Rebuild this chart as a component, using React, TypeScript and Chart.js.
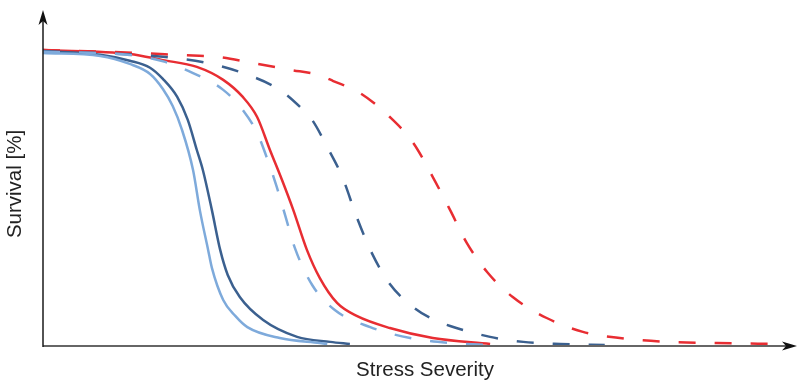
import React, { useEffect, useRef } from "react";
import { Chart, registerables } from "chart.js";

Chart.register(...registerables);

// Stress severity (0–100) vs survival (%)
const lightSolidX = [0, 7.6, 11.5, 14.2, 15.9, 17.2, 18.4, 19.9, 20.8, 21.9, 22.4, 23.9, 25.5, 27.1, 31.4, 36.7, 37.7];
const lightSolidY = [99.4, 98.4, 95.7, 92.3, 87.2, 81.4, 73.6, 59.7, 46.1, 32.6, 26.5, 15.6, 10.2, 6.4, 2.7, 1.0, 0.7];

const darkSolidX = [0, 7.6, 11.5, 14.2, 15.9, 17.8, 19.2, 20.4, 21.2, 22.4, 23.5, 24.5, 26.1, 29.2, 33.7, 38.1, 40.7];
const darkSolidY = [100.1, 98.8, 96.8, 94.4, 90.6, 84.5, 76.7, 66.5, 59.7, 46.1, 32.6, 24.1, 16.6, 8.8, 3.1, 1.4, 0.7];

const lightDashX = [0, 11.5, 16.2, 19.9, 23.9, 26.5, 28.4, 29.8, 31.0, 32.1, 33.4, 35.7, 38.7, 43.4, 48.7, 54.0, 59.7];
const lightDashY = [99.8, 98.7, 96.4, 92.6, 86.9, 80.1, 72.3, 63.1, 54.0, 44.5, 33.3, 20.7, 12.2, 6.4, 2.7, 1.0, 0.3];

const redSolidX = [0, 11.5, 15.9, 20.4, 23.9, 26.5, 28.4, 30.1, 31.7, 33.2, 35.0, 36.7, 39.0, 41.6, 46.0, 51.7, 59.3];
const redSolidY = [100.4, 99.1, 97.0, 94.7, 90.3, 84.5, 77.7, 66.5, 56.3, 46.1, 32.6, 23.1, 14.6, 10.2, 6.1, 2.7, 0.7];

const darkDashX = [0, 15.9, 21.8, 26.5, 31.4, 34.1, 35.7, 37.7, 39.7, 41.6, 43.6, 46.0, 49.1, 51.6, 54.0, 59.3, 63.7, 68.6, 74.5];
const darkDashY = [100.1, 98.1, 96.0, 92.6, 86.9, 81.1, 76.7, 67.5, 57.3, 43.8, 31.6, 21.0, 13.2, 9.2, 6.8, 3.1, 1.4, 0.7, 0.3];

const redDashX = [0, 12.9, 18.2, 23.1, 27.9, 32.8, 36.5, 38.5, 42.0, 46.0, 49.1, 51.7, 54.0, 56.2, 58.9, 62.3, 66.8, 71.6, 76.5, 82.8, 89.4, 97.5];
const redDashY = [100.4, 99.4, 98.7, 98.1, 96.0, 93.7, 92.0, 89.9, 85.9, 77.7, 68.9, 57.3, 46.1, 35.0, 25.1, 16.6, 9.5, 4.8, 2.7, 1.4, 1.0, 0.7];

const xTitle = "Stress Severity";
const yTitle = "Survival [%]";

const RED = "#E82D32";
const DARK = "#3B608F";
const LIGHT = "#7EAADB";

const pts = (xs: number[], ys: number[]) => xs.map((x, i) => ({ x, y: ys[i] }));

const axesPlugin = {
  id: "axesArrows",
  afterDatasetsDraw(chart: any) {
    const { ctx, chartArea } = chart;
    const { left, right, top, bottom } = chartArea;
    ctx.save();
    // x axis
    ctx.strokeStyle = "#666666";
    ctx.lineWidth = 2;
    ctx.beginPath();
    ctx.moveTo(left, bottom);
    ctx.lineTo(right - 8, bottom);
    ctx.stroke();
    // y axis
    ctx.strokeStyle = "#1a1a1a";
    ctx.lineWidth = 1.5;
    ctx.beginPath();
    ctx.moveTo(left, bottom + 1);
    ctx.lineTo(left, top + 8);
    ctx.stroke();
    // arrows
    ctx.fillStyle = "#111111";
    ctx.beginPath();
    ctx.moveTo(left, top);
    ctx.lineTo(left - 4.5, top + 15);
    ctx.lineTo(left, top + 11);
    ctx.lineTo(left + 4.5, top + 15);
    ctx.closePath();
    ctx.fill();
    ctx.beginPath();
    ctx.moveTo(right, bottom);
    ctx.lineTo(right - 15, bottom - 4.5);
    ctx.lineTo(right - 11, bottom);
    ctx.lineTo(right - 15, bottom + 4.5);
    ctx.closePath();
    ctx.fill();
    // titles
    ctx.fillStyle = "#222222";
    ctx.font = '20.5px "Liberation Sans", Arial, sans-serif';
    ctx.textAlign = "center";
    ctx.textBaseline = "middle";
    ctx.fillText(xTitle, 425, 370);
    ctx.translate(15, 184);
    ctx.rotate(-Math.PI / 2);
    ctx.fillText(yTitle, 0, 0);
    ctx.restore();
  },
};

export default function App() {
  const ref = useRef<HTMLCanvasElement | null>(null);
  useEffect(() => {
    if (!ref.current) return;
    const common = {
      pointRadius: 0,
      borderWidth: 2.5,
      fill: false,
      cubicInterpolationMode: "monotone" as const,
    };
    const chart = new Chart(ref.current, {
      type: "line",
      data: {
        datasets: [
          { ...common, label: "light dashed", data: pts(lightDashX, lightDashY), borderColor: LIGHT, borderDash: [17, 19] },
          { ...common, label: "dark dashed", data: pts(darkDashX, darkDashY), borderColor: DARK, borderDash: [17, 19] },
          { ...common, label: "red dashed", data: pts(redDashX, redDashY), borderColor: RED, borderDash: [17, 19] },
          { ...common, label: "light solid", data: pts(lightSolidX, lightSolidY), borderColor: LIGHT },
          { ...common, label: "dark solid", data: pts(darkSolidX, darkSolidY), borderColor: DARK },
          { ...common, label: "red solid", data: pts(redSolidX, redSolidY), borderColor: RED },
        ],
      },
      options: {
        animation: false,
        responsive: false,
        devicePixelRatio: 1,
        layout: { padding: { left: 43, right: 0, top: 10, bottom: 34 } },
        plugins: { legend: { display: false }, tooltip: { enabled: false } },
        scales: {
          x: { type: "linear", min: 0, max: 100, display: false },
          y: { type: "linear", min: 0, max: 114, display: false },
        },
      },
      plugins: [axesPlugin],
    });
    return () => chart.destroy();
  }, []);
  return (
    <div style={{ position: "fixed", left: 0, top: 0, width: 797, height: 380, background: "#fff" }}>
      <canvas ref={ref} width={797} height={380} style={{ display: "block" }} />
    </div>
  );
}
